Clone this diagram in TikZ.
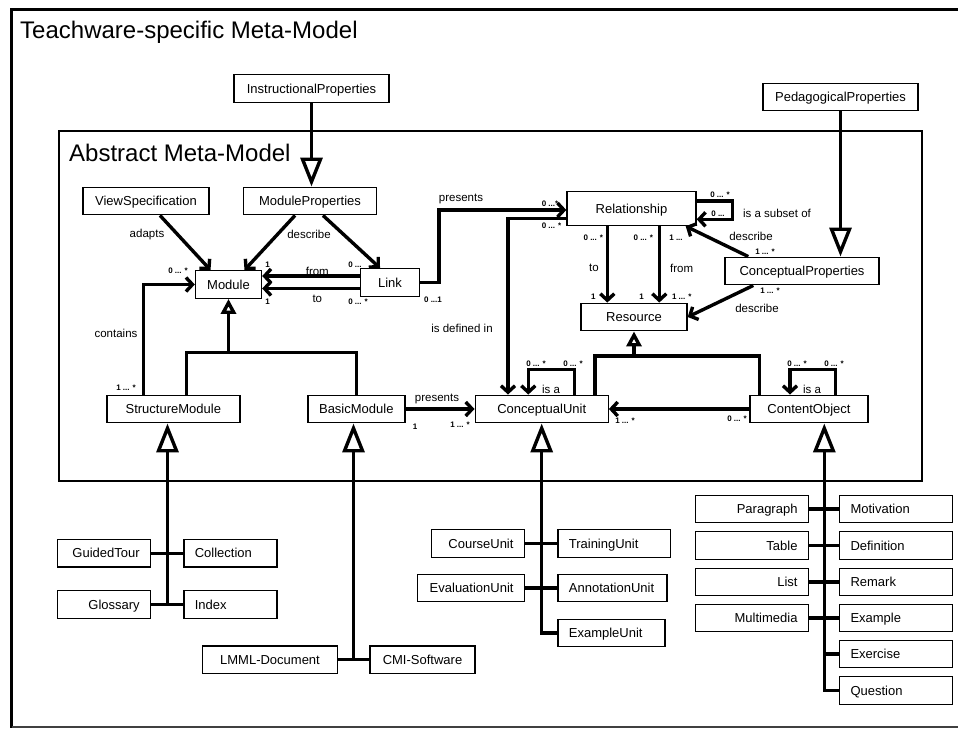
\documentclass[tikz,border=0pt]{standalone}
\usepackage{fontspec}
\setmainfont{Liberation Sans}
\usetikzlibrary{arrows.meta}
\begin{document}
\begin{tikzpicture}[x=1pt,y=-1pt,
  box/.style={draw, line width=1.4pt, inner sep=0pt, minimum height=27.5pt, text height=10.6pt, text depth=1.5pt, font=\fontsize{13}{15}\selectfont},
  rbox/.style={box, inner xsep=11pt, text width=#1, align=right},
  lbox/.style={box, inner xsep=11pt, text width=#1, align=left},
  conn/.style={line width=3.4pt},
  arr/.style={conn, -{Straight Barb[length=6.5pt,width=14pt]}},
  inh/.style={conn, -{Triangle[open,length=29pt,width=22pt]}},
  inhs/.style={conn, -{Triangle[open,length=15pt,width=15pt]}},
  lab/.style={inner sep=0pt, font=\fontsize{11.5}{13}\selectfont},
  mult/.style={inner sep=0pt, font=\bfseries\fontsize{8}{9}\selectfont},
  ttl/.style={inner sep=0pt, font=\fontsize{24}{28}\selectfont, anchor=base west}]

\useasboundingbox (0,0) rectangle (958,728);
\fill[white] (0,0) rectangle (958,728);

% frames
\draw[line width=3pt] (958,9.5) -- (11.5,9.5) -- (11.5,727.5);
\draw[line width=1.3pt, black!75] (11.5,727) -- (958,727);
\draw[line width=1.4pt] (59,131) rectangle (922,481);
\node[ttl] (t1) at (20,38) {Teachware-specific Meta-Model};
\node[ttl] (t2) at (69,161.5) {Abstract Meta-Model};

% boxes
\node[box, minimum width=155pt] (ip) at (311.5,88.5) {InstructionalProperties};
\node[box, minimum width=126pt] (vs) at (146,201) {ViewSpecification};
\node[box, minimum width=133pt] (mp) at (310,201) {ModuleProperties};
\node[box, minimum width=66pt] (mod) at (228.5,284.5) {Module};
\node[box, minimum width=59pt] (link) at (390,282.5) {Link};
\node[box, minimum width=129pt, minimum height=34pt] (rel) at (631.5,208.5) {Relationship};
\node[box, minimum width=106pt] (res) at (634,317) {Resource};
\node[box, minimum width=154pt] (cp) at (802,271) {ConceptualProperties};
\node[box, minimum width=155pt] (pp) at (840.5,97) {PedagogicalProperties};
\node[box, minimum width=133pt] (sm) at (173.3,409) {StructureModule};
\node[box, minimum width=97pt] (bm) at (356.3,409) {BasicModule};
\node[box, minimum width=133pt] (cu) at (541.7,409) {ConceptualUnit};
\node[box, minimum width=118pt] (co) at (809,409) {ContentObject};

\node[rbox=71pt] (gt) at (104.2,553.3) {GuidedTour};
\node[lbox=71pt] (col) at (230.3,553.3) {Collection};
\node[rbox=71pt] (glo) at (104.2,604.5) {Glossary};
\node[lbox=71pt] (idx) at (230.3,604.5) {Index};
\node[box, minimum width=134.7pt] (lmml) at (270,659.7) {LMML-Document};
\node[box, minimum width=105pt] (cmi) at (422.5,659.7) {CMI-Software};

\node[rbox=71pt] (cou) at (478,543.5) {CourseUnit};
\node[lbox=90.7pt] (tu) at (614.2,543.5) {TrainingUnit};
\node[rbox=85.3pt] (eu) at (470.9,588) {EvaluationUnit};
\node[lbox=87pt] (au) at (612.4,588) {AnnotationUnit};
\node[lbox=85.3pt] (exu) at (611.5,633) {ExampleUnit};

\node[rbox=91pt] (par) at (752,509) {Paragraph};
\node[lbox=91pt] (mot) at (896,509) {Motivation};
\node[rbox=91pt] (tab) at (752,545.5) {Table};
\node[lbox=91pt] (def) at (896,545.5) {Definition};
\node[rbox=91pt] (lst) at (752,582) {List};
\node[lbox=91pt] (rem) at (896,582) {Remark};
\node[rbox=91pt] (mm) at (752,618) {Multimedia};
\node[lbox=91pt] (ex) at (896,618) {Example};
\node[lbox=91pt] (exr) at (896,654) {Exercise};
\node[lbox=91pt] (q) at (896,690.5) {Question};

% labels
\node[lab] (l1) at (147,235) {adapts};
\node[lab] (l2) at (309,234) {describe};
\node[lab] (l3) at (317.3,271.5) {from};
\node[lab] (l4) at (317.3,299) {to};
\node[lab] (l5) at (461,199) {presents};
\node[lab] (l6) at (462,328) {is defined in};
\node[lab] (l7) at (777,213) {is a subset of};
\node[lab] (l8) at (594,268) {to};
\node[lab] (l9) at (681.7,268) {from};
\node[lab] (l10) at (751,236) {describe};
\node[lab] (l11) at (757,308) {describe};
\node[lab] (l12) at (116,333) {contains};
\node[lab] (l13) at (437,399) {presents};
\node[lab] (l14) at (551,389) {is a};
\node[lab] (l15) at (812,389) {is a};

% multiplicities
\node[mult] (m1) at (178,271) {0 ... *};
\node[mult] (m2) at (267.5,265) {1};
\node[mult] (m3) at (267.5,302) {1};
\node[mult] (m4) at (355,264.5) {0 ...};
\node[mult] (m5) at (358,302) {0 ... *};
\node[mult] (m6) at (433,300) {0 ...1};
\node[mult] (m7) at (550,204) {0 ...*};
\node[mult] (m8) at (551.5,225.5) {0 ... *};
\node[mult] (m9) at (720,194.5) {0 ... *};
\node[mult] (m10) at (718,213.5) {0 ...};
\node[mult] (m11) at (593.3,237.3) {0 ... *};
\node[mult] (m12) at (643.3,237.3) {0 ... *};
\node[mult] (m13) at (676,237.3) {1 ...};
\node[mult] (m14) at (593.3,296.7) {1};
\node[mult] (m15) at (641.7,296.7) {1};
\node[mult] (m16) at (681.7,296.7) {1 ... *};
\node[mult] (m17) at (765,251.7) {1 ... *};
\node[mult] (m18) at (770,291) {1 ... *};
\node[mult] (m19) at (126,388) {1 ... *};
\node[mult] (m20) at (415,427) {1};
\node[mult] (m21) at (460,425) {1 ... *};
\node[mult] (m22) at (536,364) {0 ... *};
\node[mult] (m23) at (573,364) {0 ... *};
\node[mult] (m24) at (625,421) {1 ... *};
\node[mult] (m25) at (737,419) {0 ... *};
\node[mult] (m26) at (797,364) {0 ... *};
\node[mult] (m27) at (834,364) {0 ... *};

% helper coordinates
\coordinate (yf) at (0,276);
\coordinate (yt) at (0,288.5);
\coordinate (pr) at (439,210);
\coordinate (idf) at (508,218.3);
\coordinate (sl1) at (732.5,201);
\coordinate (sl2) at (732.5,219.3);
\coordinate (xto) at (607.3,0);
\coordinate (xfr) at (659.3,0);
\coordinate (jM) at (228.5,352.7);
\coordinate (jR) at (634,356);
\coordinate (yl) at (0,369.3);
\coordinate (cuJ) at ([xshift=53.3pt]cu.north);
\coordinate (coJ) at ([xshift=-49.7pt]co.north);
\coordinate (cuL) at ([xshift=-13.4pt]cu.north);
\coordinate (cuR) at ([xshift=32.6pt]cu.north);
\coordinate (coL) at ([xshift=-19pt]co.north);
\coordinate (coR) at ([xshift=26.7pt]co.north);
\coordinate (smJ) at ([xshift=13.4pt]sm.north);
\coordinate (sB) at (167.5,604.5);
\coordinate (bB) at (353.5,659.7);
\coordinate (coV) at ([xshift=15.3pt]co.south);

% generalisations
\draw[inh] (ip.south) -- (ip.south |- mp.north);
\draw[inh] (pp.south) -- (pp.south |- cp.north);
\draw[conn] (smJ) |- (bm.north |- jM) -- (bm.north);
\draw[inhs] (jM) -- (mod.south);
\draw[conn] (cuJ) |- (coJ |- jR) -- (coJ);
\draw[inhs] (jR) -- (jR |- res.south);

% associations
\draw[arr] ([xshift=14pt]vs.south) -- ([xshift=-18pt]mod.north);
\draw[arr] ([xshift=-15pt]mp.south) -- ([xshift=16pt]mod.north);
\draw[arr] ([xshift=13pt]mp.south) -- ([xshift=-10pt]link.north);
\draw[arr] (link.west |- yf) -- (mod.east |- yf);
\draw[arr] (link.west |- yt) -- (mod.east |- yt);
\draw[arr] (link.east) -| (pr) -- (rel.west |- pr);
\draw[arr] (rel.west |- idf) -- (idf) -- (idf |- cu.north);
\draw[arr] (rel.east |- sl1) -- (sl1) -- (sl2) -- (rel.east |- sl2);
\draw[arr] (rel.south -| xto) -- (res.north -| xto);
\draw[arr] (rel.south -| xfr) -- (res.north -| xfr);
\draw[arr] ([xshift=-53.7pt]cp.north) -- ([xshift=-11pt]rel.south east);
\draw[arr] ([xshift=-48.7pt]cp.south) -- (res.east);
\draw[arr] ([xshift=-30pt]sm.north) |- (mod.west);
\draw[arr] (bm.east) -- (cu.west);
\draw[arr] (co.west) -- (cu.east);
\draw[arr] (cuR) -- (cuR |- yl) -- (cuL |- yl) -- (cuL);
\draw[arr] (coR) -- (coR |- yl) -- (coL |- yl) -- (coL);

% specialisations below
\draw[inh] (sB) -- (sB |- sm.south);
\draw[conn] (gt.east) -- (col.west);
\draw[conn] (glo.east) -- (idx.west);
\draw[inh] (bB) -- (bB |- bm.south);
\draw[conn] (lmml.east) -- (cmi.west);
\draw[inh] (exu.west) -| (cu.south);
\draw[conn] (cou.east) -- (tu.west);
\draw[conn] (eu.east) -- (au.west);
\draw[inh] (q.west) -| (coV);
\draw[conn] (par.east) -- (mot.west);
\draw[conn] (tab.east) -- (def.west);
\draw[conn] (lst.east) -- (rem.west);
\draw[conn] (mm.east) -- (ex.west);
\draw[conn] (exr.west) -- (exr.west -| coV);
\end{tikzpicture}
\end{document}
